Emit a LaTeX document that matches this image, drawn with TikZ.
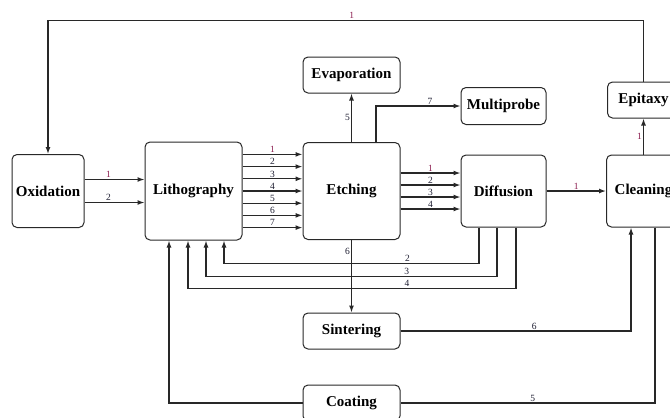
\documentclass[tikz,border=0pt]{standalone}
\usepackage{fontspec}
\setmainfont{Liberation Serif}
\usetikzlibrary{arrows.meta}
\definecolor{lineclr}{RGB}{40,40,40}
\definecolor{labone}{RGB}{140,30,80}
\definecolor{labnum}{RGB}{30,30,50}
\tikzset{
  x=1pt, y=-1pt,
  stepbox/.style={draw=lineclr, line width=1pt, rounded corners=5pt, fill=white,
    inner sep=2pt, font=\fontsize{15}{17}\selectfont\bfseries, align=center},
  flow/.style={draw=lineclr, line width=1.3pt},
  arr/.style={flow, -{Latex[length=7pt,width=5pt]}},
  lbl/.style={font=\fontsize{9.5}{10}\selectfont, text=labnum, inner sep=1pt},
  lblone/.style={lbl, text=labone},
}
\begin{document}
\begin{tikzpicture}
\useasboundingbox (0,0) rectangle (670,418);
\clip (0,0) rectangle (670,418);
\fill[white] (0,0) rectangle (670,418);

% process steps
\node[stepbox, minimum width=72pt, minimum height=73pt] (oxid)  at (48,191)    {Oxidation};
\node[stepbox, minimum width=97pt, minimum height=98pt] (lith)  at (193.5,191) {Lithography};
\node[stepbox, minimum width=97pt, minimum height=97pt] (etch)  at (351.5,191) {Etching};
\node[stepbox, minimum width=85pt, minimum height=72pt] (diff)  at (503.5,191) {Diffusion};
\node[stepbox, minimum width=74pt, minimum height=72pt] (clean) at (643.5,191) {Cleaning};
\node[stepbox, minimum width=72pt, minimum height=36pt] (epi)   at (643.5,100) {Epitaxy};
\node[stepbox, minimum width=97pt, minimum height=36pt] (evap)  at (351.5,75)  {Evaporation};
\node[stepbox, minimum width=85pt, minimum height=37pt] (multi) at (503.5,106) {Multiprobe};
\node[stepbox, minimum width=97pt, minimum height=36pt] (sint)  at (351.5,331) {Sintering};
\node[stepbox, minimum width=97pt, minimum height=36pt] (coat)  at (351.5,403) {Coating};

% oxidation -> lithography
\draw[arr] ([yshift=11.5pt]oxid.east) -- node[lblone, above, pos=0.4] {1} ([yshift=11.5pt]lith.west);
\draw[arr] ([yshift=-11.5pt]oxid.east) -- node[lbl, above, pos=0.4] {2} ([yshift=-11.5pt]lith.west);

% lithography -> etching, seven lines
\foreach \i in {1,...,7} {
  \pgfmathsetmacro{\sh}{(4-\i)*12.2}
  \ifnum\i=1
    \draw[arr] ([yshift=\sh pt]lith.east) -- node[lblone, above, pos=0.5] {\i} ([yshift=\sh pt]etch.west);
  \else
    \draw[arr] ([yshift=\sh pt]lith.east) -- node[lbl, above, pos=0.5] {\i} ([yshift=\sh pt]etch.west);
  \fi
}

% etching -> diffusion, four lines
\foreach \i in {1,...,4} {
  \pgfmathsetmacro{\sh}{18-(\i-1)*12}
  \ifnum\i=1
    \draw[arr] ([yshift=\sh pt]etch.east) -- node[lblone, above, pos=0.5] {\i} ([yshift=\sh pt]diff.west);
  \else
    \draw[arr] ([yshift=\sh pt]etch.east) -- node[lbl, above, pos=0.5] {\i} ([yshift=\sh pt]diff.west);
  \fi
}

% etching branches
\draw[arr] (etch.north) -- node[lbl, left] {5} (evap.south);
\draw[arr] ([xshift=24.5pt]etch.north) |- node[lbl, above, pos=0.82] {7} (multi.west);
\draw[arr] (etch.south) -- node[lbl, left, pos=0.16] {6} (sint.north);

% diffusion -> cleaning -> epitaxy -> oxidation
\draw[arr] (diff.east) -- node[lblone, above] {1} (clean.west);
\draw[arr] (clean.north) -- node[lblone, left] {1} (epi.south);
\draw[arr] (epi.north) -- ++(0,-61) -| node[lblone, above, pos=0.245] {1} (oxid.north);

% diffusion feedback to lithography
\draw[arr] ([xshift=-24.5pt]diff.south) -- ++(0,36) -| node[lbl, above, pos=0.14] {2} ([xshift=30.5pt]lith.south);
\draw[arr] ([xshift=-6.5pt]diff.south) -- ++(0,49) -| node[lbl, above, pos=0.155] {3} ([xshift=12.5pt]lith.south);
\draw[arr] ([xshift=12.5pt]diff.south) -- ++(0,61) -| node[lbl, above, pos=0.166] {4} ([xshift=-5.5pt]lith.south);

% sintering and coating loops
\draw[arr] (sint.east) -| node[lbl, above, pos=0.29] {6} ([xshift=-12.5pt]clean.south);
\draw[flow] ([xshift=11.5pt]clean.south) |- node[lbl, above, pos=0.74] {5} (coat.east);
\draw[arr] (coat.west) -| ([xshift=-24.5pt]lith.south);
\end{tikzpicture}
\end{document}
